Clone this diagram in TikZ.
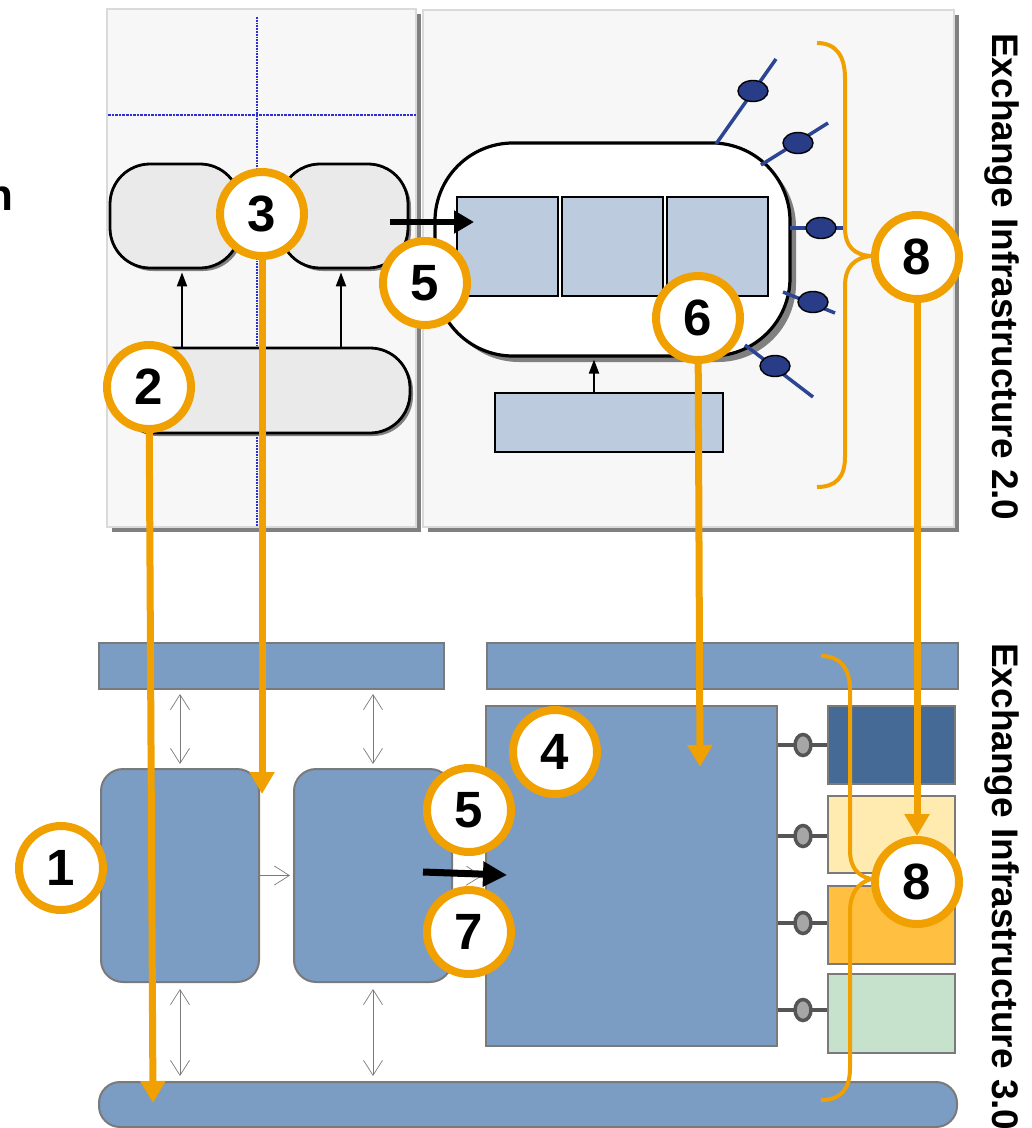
\documentclass[tikz,border=0pt]{standalone}
\usepackage{fontspec}
\setmainfont{Liberation Sans}
\usetikzlibrary{arrows.meta,shadows,calc,shapes.geometric}
\definecolor{org}{RGB}{240,160,0}
\definecolor{panelfill}{HTML}{F7F7F7}
\definecolor{panelline}{HTML}{DADADA}
\definecolor{shd}{HTML}{808080}
\definecolor{pillfill}{HTML}{EAEAEA}
\definecolor{lblue}{HTML}{BCCBDD}
\definecolor{navy}{HTML}{283C87}
\definecolor{navyline}{HTML}{2B4592}
\definecolor{steel}{HTML}{7B9CC3}
\definecolor{bgray}{HTML}{7A7A7A}
\definecolor{dkblue}{HTML}{466A96}
\definecolor{lyellow}{HTML}{FFEAB0}
\definecolor{orbox}{HTML}{FFBF40}
\definecolor{lgreen}{HTML}{C6E2CC}
\definecolor{dotblue}{HTML}{2E2ED6}
\definecolor{lolgray}{HTML}{A6A6A6}
\definecolor{lolline}{HTML}{555555}
\pgfdeclarelayer{fg}
\pgfsetlayers{main,fg}
\begin{document}
\begin{tikzpicture}[x=1pt,y=-1pt,
  panel/.style={draw=panelline, line width=1.5pt, fill=panelfill, inner sep=0pt,
    drop shadow={shadow xshift=5pt, shadow yshift=-5pt, fill=shd, opacity=1}},
  pill/.style={draw=black, line width=2.8pt, fill=pillfill, rounded corners=40pt, inner sep=0pt,
    drop shadow={shadow xshift=3pt, shadow yshift=-3pt, fill=shd, opacity=1}},
  bigpill/.style={draw=black, line width=3.2pt, fill=white, rounded corners=78pt, inner sep=0pt,
    drop shadow={shadow xshift=6pt, shadow yshift=-6pt, fill=shd, opacity=1}},
  ibox/.style={draw=black, line width=2.8pt, fill=lblue, inner sep=0pt},
  sbox/.style={draw=bgray, line width=2pt, fill=steel, inner sep=0pt},
  cbox/.style={draw=bgray, line width=2pt, inner sep=0pt, minimum width=127pt},
  num/.style={circle, draw=org, line width=8pt, fill=white, minimum size=84pt, inner sep=0pt,
    font=\fontsize{51}{51}\selectfont\bfseries},
  oarrow/.style={draw=org, line width=7pt, -{Triangle[width=24pt,length=22pt]}},
  brace/.style={draw=org, line width=4pt},
  dbl/.style={draw=bgray, line width=0.7pt, {Straight Barb[length=15pt,width=19pt]}-{Straight Barb[length=15pt,width=19pt]}},
  sarrow/.style={draw=bgray, line width=0.7pt, -{Straight Barb[length=15pt,width=19pt]}},
  blk/.style={draw=black, line width=2pt, -{Triangle[width=10pt,length=14pt]}},
  bigarrow/.style={draw=black, line width=6.5pt, -{Triangle[width=22pt,length=20pt]}},
  navline/.style={draw=navyline, line width=3.5pt},
  lolt/.style={ellipse, draw=black, line width=1.4pt, fill=navy, minimum width=30pt, minimum height=21pt, inner sep=0pt},
  lolwire/.style={draw=lolline, line width=3.5pt},
  lolb/.style={ellipse, draw=lolline, line width=3.5pt, fill=lolgray, minimum width=16pt, minimum height=21pt, inner sep=0pt},
  title/.style={rotate=-90, anchor=base west, inner sep=0pt, font=\fontsize{37}{37}\selectfont\bfseries}
]
\useasboundingbox (0,0) rectangle (1032,1128);

% cut-off text at left
\node[anchor=base east, inner sep=0pt, font=\fontsize{44}{44}\selectfont\bfseries] (ntext) at (14,210) {n};

% ---------- top panels ----------
\node[panel, minimum width=309pt, minimum height=518pt] (pL) at (261.5,268) {};
\node[panel, minimum width=531pt, minimum height=517pt] (pR) at (688.5,268.5) {};

\draw[dotblue, line width=2.6pt, densely dotted] (108,115) -- (416,115);
\draw[dotblue, line width=1.8pt, densely dotted] (257,17) -- (257,526);

\node[pill, minimum width=130pt, minimum height=104pt] (pl1) at (175,216) {};
\node[pill, minimum width=128pt, minimum height=104pt] (pl2) at (344,216) {};
\node[pill, minimum width=295pt, minimum height=85pt] (pl3) at (262.5,390.5) {};
\draw[blk, shorten >=3pt] (182,0 |- pl3.north) -- (182,0 |- pl1.south);
\draw[blk, shorten >=3pt] (341,0 |- pl3.north) -- (341,0 |- pl2.south);

\node[bigpill, minimum width=355pt, minimum height=213pt] (bp) at (612.5,249.5) {};
\node[ibox, minimum width=101pt, minimum height=99pt] (ib1) at (507.5,246.5) {};
\node[ibox, minimum width=101pt, minimum height=99pt] (ib2) at (612.5,246.5) {};
\node[ibox, minimum width=101pt, minimum height=99pt] (ib3) at (717.5,246.5) {};
\node[ibox, minimum width=228pt, minimum height=59pt] (lowbox) at (609,422.5) {};
\draw[blk, shorten >=2pt] (594,0 |- lowbox.north) -- (594,0 |- bp.south);

\coordinate (ta0) at (390,222);
\coordinate (ta1) at (474,222);
\draw[bigarrow] (ta0) -- (ta1);

% lollipops around the big pill
\coordinate (q1a) at (716,144); \coordinate (q1b) at (776,59);
\coordinate (q2a) at (761,165); \coordinate (q2b) at (828,123);
\coordinate (q3a) at (790,228); \coordinate (q3b) at (843,228);
\coordinate (q4a) at (783,292); \coordinate (q4b) at (835,313);
\coordinate (q5a) at (745,345); \coordinate (q5b) at (813,397);
\draw[navline] (q1a) -- (q1b);
\draw[navline] (q2a) -- (q2b);
\draw[navline] (q3a) -- (q3b);
\draw[navline] (q4a) -- (q4b);
\draw[navline] (q5a) -- (q5b);
\node[lolt] (e1) at (753,91) {};
\node[lolt] (e2) at (798,143) {};
\node[lolt] (e3) at (821,228) {};
\node[lolt] (e4) at (813,302) {};
\node[lolt] (e5) at (775,366) {};

% brace 2.0
\draw[brace] (817,43) .. controls (836,43) and (845,56) .. (845,78) -- (845,228)
  .. controls (845,246) and (854,255) .. (871,256)
  .. controls (854,258) and (845,267) .. (845,286) -- (845,457)
  .. controls (845,477) and (836,487) .. (817,487);

\node[title] (t20) at (992,33) {Exchange Infrastructure 2.0};

% ---------- bottom part ----------
\node[sbox, minimum width=345pt, minimum height=46pt] (barL) at (271.5,666) {};
\node[sbox, minimum width=471pt, minimum height=46pt] (barR) at (722.5,666) {};
\node[sbox, rounded corners=22pt, minimum width=158pt, minimum height=213pt] (bx1) at (180,875.5) {};
\node[sbox, rounded corners=22pt, minimum width=158pt, minimum height=213pt] (bx2) at (373,875.5) {};
\node[sbox, minimum width=291pt, minimum height=340pt] (big) at (631.5,876) {};
\node[cbox, fill=dkblue, minimum height=78pt] (cb1) at (891.5,745) {};
\node[cbox, fill=lyellow, minimum height=77pt] (cb2) at (891.5,834.5) {};
\node[cbox, fill=orbox, minimum height=78pt] (cb3) at (891.5,925) {};
\node[cbox, fill=lgreen, minimum height=79pt] (cb4) at (891.5,1013.5) {};
\node[sbox, rounded corners=21pt, minimum width=858pt, minimum height=45pt] (bbar) at (528,1104.5) {};

\draw[dbl, shorten <=4pt, shorten >=4pt] (bx1.north |- barL.south) -- (bx1.north);
\draw[dbl, shorten <=4pt, shorten >=4pt] (bx2.north |- barL.south) -- (bx2.north);
\draw[dbl, shorten <=6pt, shorten >=5pt] (bx1.south) -- (bx1.south |- bbar.north);
\draw[dbl, shorten <=6pt, shorten >=5pt] (bx2.south) -- (bx2.south |- bbar.north);
\draw[sarrow, shorten >=3pt] (bx1.east) -- (bx2.west);
\draw[sarrow, shorten >=3pt] (bx2.east) -- (big.west);

\foreach \i/\yy in {1/745,2/836,3/923,4/1010}{
  \draw[lolwire] (big.east |- 0,\yy) -- (cb\i.west |- 0,\yy);
  \node[lolb] (lp\i) at (803,\yy) {};
}

\coordinate (ba0) at (423,872);
\coordinate (ba1) at (507,875);
\draw[bigarrow, line width=7pt, -{Triangle[width=24pt,length=24pt]}] (ba0) -- (ba1);

% brace 3.0
\draw[brace] (821,656) .. controls (840,656) and (850,668) .. (850,690) -- (850,850)
  .. controls (850,868) and (858,876) .. (871,879)
  .. controls (858,883) and (850,893) .. (850,912) -- (850,1068)
  .. controls (850,1090) and (840,1100) .. (821,1100);

\node[title] (t30) at (992,643) {Exchange Infrastructure 3.0};

% ---------- numbered circles ----------
\begin{pgfonlayer}{fg}
\node[num] (c1) at (61,868) {1};
\node[num] (c2) at (149,387) {2};
\node[num] (c3) at (262,214) {3};
\node[num] (c4) at (555,752) {4};
\node[num] (c5t) at (425,283) {5};
\node[num] (c5b) at (469,810) {5};
\node[num] (c6) at (698,318) {6};
\node[num] (c7) at (469,932) {7};
\node[num] (c8t) at (917,257) {8};
\node[num] (c8b) at (917,882) {8};
\end{pgfonlayer}

% ---------- orange arrows ----------
\coordinate (t2) at (153,1103);
\coordinate (t3) at (262,794);
\coordinate (t6) at (700,767);
\draw[oarrow] (c2) -- (t2);
\draw[oarrow] (c3) -- (t3);
\draw[oarrow] (c6) -- (t6);
\draw[oarrow] (c8t) -- (c8b);
\end{tikzpicture}
\end{document}
